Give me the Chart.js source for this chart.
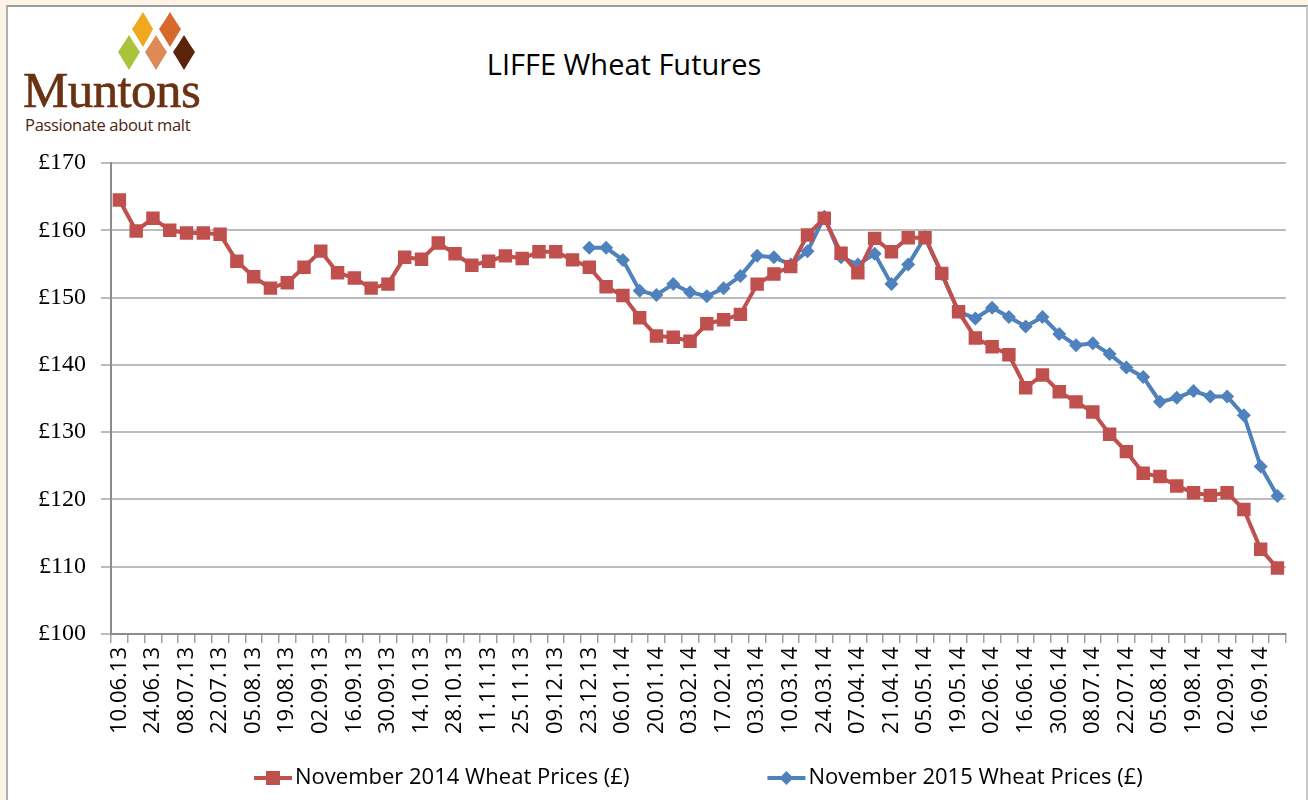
<!DOCTYPE html>
<html>
<head>
<meta charset="utf-8">
<script src="https://cdn.jsdelivr.net/npm/chart.js@4"></script>
<style>
  html, body { margin: 0; padding: 0; }
  body { width: 1308px; height: 800px; background: #fdf4e6; position: relative; overflow: hidden; }
  #frame { position: absolute; left: 6px; top: 5px; width: 1298px; height: 800px; background: #fff;
           border-top: 2px solid #9c9c9c; border-left: 2px solid #b0b0b0; border-right: 2px solid #c8c8c8; }
  #chart { position: absolute; left: 0; top: 0; }
  #title { position: absolute; left: 374px; width: 500px; top: 44px; text-align: center;
           font: 29px "Open Sans", sans-serif; color: #000; }
  #logo { position: absolute; left: 22px; top: 10px; width: 180px; height: 125px; }
  #logo .name { position: absolute; left: 1px; top: 51px; font: 51px "Liberation Serif", serif; color: #6a3212;
                letter-spacing: -0.6px; -webkit-text-stroke: 0.6px #6a3212; }
  #logo .tag { position: absolute; left: 3px; top: 103px; font: 16.5px "Open Sans", sans-serif; color: #4b2510; letter-spacing: -0.3px; }
</style>
</head>
<body>
<div id="frame"></div>
<div id="logo">
  <svg width="180" height="62" style="position:absolute;left:0;top:0">
    <path d="M121 2 Q127 12 131 19 Q127 27 121 37 Q115 27 110 19 Q115 12 121 2Z" fill="#f0a81e"/>
    <path d="M148 2 Q154 12 159 19 Q154 27 148 37 Q142 27 137 19 Q142 12 148 2Z" fill="#d56a2a"/>
    <path d="M107 25 Q113 35 118 42 Q113 50 107 60 Q101 50 96 42 Q101 35 107 25Z" fill="#a9c33b"/>
    <path d="M134 25 Q140 35 145 42 Q140 50 134 60 Q128 50 123 42 Q128 35 134 25Z" fill="#de8a56"/>
    <path d="M162 25 Q168 35 173 42 Q168 50 162 60 Q156 50 151 42 Q156 35 162 25Z" fill="#5a2508"/>
  </svg>
  <div class="name">Muntons</div>
  <div class="tag">Passionate about malt</div>
</div>
<div id="title">LIFFE Wheat Futures</div>
<canvas id="chart" width="1308" height="800"></canvas>
<script>
// every other week is labelled on the axis
const tickLabels = ['10.06.13', '24.06.13', '08.07.13', '22.07.13', '05.08.13', '19.08.13', '02.09.13',
    '16.09.13', '30.09.13', '14.10.13', '28.10.13', '11.11.13', '25.11.13', '09.12.13', '23.12.13',
    '06.01.14', '20.01.14', '03.02.14', '17.02.14', '03.03.14', '10.03.14', '24.03.14', '07.04.14',
    '21.04.14', '05.05.14', '19.05.14', '02.06.14', '16.06.14', '30.06.14', '08.07.14', '22.07.14',
    '05.08.14', '19.08.14', '02.09.14', '16.09.14'];

const nov14Prices = [164.5, 159.9, 161.8, 160.0, 159.6, 159.6, 159.4, 155.4, 153.1, 151.4,
    152.2, 154.5, 156.9, 153.7, 152.9, 151.4, 152.0, 156.0, 155.7, 158.1,
    156.5, 154.8, 155.4, 156.2, 155.8, 156.8, 156.8, 155.6, 154.5, 151.6,
    150.3, 147.0, 144.3, 144.1, 143.5, 146.1, 146.7, 147.5, 152.0, 153.5,
    154.6, 159.3, 161.8, 156.6, 153.7, 158.8, 156.8, 158.9, 158.9, 153.6,
    147.9, 144.0, 142.7, 141.5, 136.6, 138.5, 136.0, 134.5, 133.0, 129.7,
    127.1, 123.9, 123.4, 122.0, 121.0, 120.6, 121.0, 118.5, 112.6, 109.8];

// Nov 2015 contract only starts trading at week 28 (23.12.13)
const nov15Start = 28;
const nov15Prices = [157.4, 157.4, 155.6, 151.0, 150.4, 152.0, 150.8, 150.2, 151.4, 153.2,
    156.2, 156.0, 154.9, 156.9, 162.0, 156.0, 154.9, 156.5, 152.0, 154.9,
    159.0, 153.5, 147.9, 146.9, 148.5, 147.1, 145.7, 147.1, 144.6, 142.9,
    143.2, 141.6, 139.6, 138.2, 134.5, 135.1, 136.1, 135.3, 135.3, 132.5,
    124.9, 120.5];

const seriesNames = ['November 2014 Wheat Prices (\u00a3)', 'November 2015 Wheat Prices (\u00a3)'];

const redColor = '#c0504d';
const blueColor = '#4f81bd';

let categories = [];
tickLabels.forEach(function (t) {
    categories.push(t);
    categories.push('');
});
const nov15Data = new Array(nov15Start).fill(null).concat(nov15Prices);

function drawMarker(ctx, style, color, x, y) {
    ctx.fillStyle = color;
    ctx.beginPath();
    if (style === 'rect') {
        ctx.rect(x - 7, y - 7, 14, 14);
    } else {
        ctx.moveTo(x - 7, y);
        ctx.lineTo(x, y - 7);
        ctx.lineTo(x + 7, y);
        ctx.lineTo(x, y + 7);
        ctx.closePath();
    }
    ctx.fill();
}

// Excel style legend: line with marker, spread out under the plot
const lineLegend = {
    id: 'lineLegend',
    afterDraw: function (chart) {
        const ctx = chart.ctx;
        const lineLen = 38, gap = 3, itemGap = 138, y = 778;
        ctx.save();
        ctx.font = '22px "Open Sans", sans-serif';
        ctx.textBaseline = 'middle';
        const widths = chart.data.datasets.map(d => lineLen + gap + ctx.measureText(d.label).width);
        const total = widths.reduce((a, b) => a + b, 0) + itemGap * (widths.length - 1);
        let x = (chart.chartArea.left + chart.chartArea.right) / 2 - total / 2;
        chart.data.datasets.forEach(function (d, i) {
            ctx.strokeStyle = d.borderColor;
            ctx.lineWidth = 4;
            ctx.beginPath();
            ctx.moveTo(x, y);
            ctx.lineTo(x + lineLen, y);
            ctx.stroke();
            drawMarker(ctx, d.pointStyle, d.borderColor, x + lineLen / 2, y);
            ctx.fillStyle = '#000';
            ctx.fillText(d.label, x + lineLen + gap, y);
            x += widths[i] + itemGap;
        });
        ctx.restore();
    }
};

const ctx = document.getElementById('chart').getContext('2d');

var wheatChart = new Chart(ctx, {
    type: 'line',
    data: {
        labels: categories,
        datasets: [{
            label: seriesNames[0],
            data: nov14Prices,
            borderColor: redColor,
            backgroundColor: redColor,
            borderWidth: 4,
            pointStyle: 'rect',
            pointRadius: 9.5,
            pointBorderWidth: 0,
            pointBackgroundColor: redColor,
            tension: 0
        }, {
            label: seriesNames[1],
            data: nov15Data,
            borderColor: blueColor,
            backgroundColor: blueColor,
            borderWidth: 4,
            pointStyle: 'rectRot',
            pointRadius: 7,
            pointBorderWidth: 0,
            pointBackgroundColor: blueColor,
            tension: 0
        }]
    },
    options: {
        responsive: false,
        animation: false,
        layout: {
            padding: { top: 163, left: 0, right: 21, bottom: 46 }
        },
        plugins: {
            legend: { display: false },
            tooltip: { enabled: false }
        },
        scales: {
            x: {
                offset: true,
                afterFit: function (scale) { scale.height = 120; },
                grid: {
                    offset: true,
                    drawOnChartArea: false,
                    drawTicks: true,
                    tickLength: 9,
                    color: '#a0a0a0',
                    lineWidth: 1.5
                },
                border: { color: '#8c8c8c', width: 2 },
                ticks: {
                    autoSkip: false,
                    maxRotation: 90,
                    minRotation: 90,
                    padding: 4,
                    color: '#000',
                    font: { family: '"Open Sans", sans-serif', size: 22 }
                }
            },
            y: {
                min: 100,
                max: 170,
                afterFit: function (scale) { scale.width = 111; },
                grid: {
                    color: '#bcbcbc',
                    lineWidth: 2,
                    tickLength: 10
                },
                border: { color: '#8c8c8c', width: 2 },
                ticks: {
                    stepSize: 10,
                    padding: 15,
                    color: '#000',
                    font: { family: '"Liberation Serif", serif', size: 24 },
                    callback: function (v) { return '\u00a3' + v; }
                }
            }
        }
    },
    plugins: [lineLegend]
});
</script>
</body>
</html>
